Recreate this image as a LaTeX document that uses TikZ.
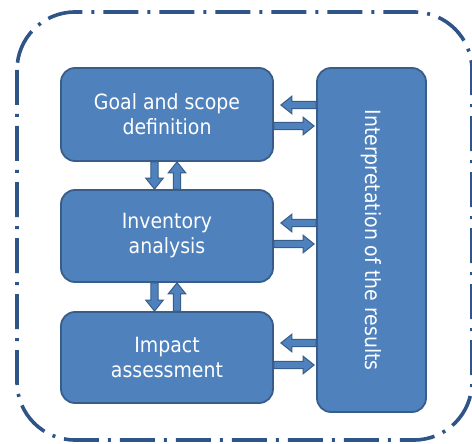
\documentclass[tikz,border=0pt]{standalone}
\usepackage{fontspec}
\setmainfont{DejaVu Sans}[FakeStretch=0.9]
\usetikzlibrary{calc}
\definecolor{boxfill}{HTML}{4F81BD}
\definecolor{boxline}{HTML}{385D8A}
\definecolor{framecol}{HTML}{2F5588}
\newcommand{\arrSW}{3.6pt}
\newcommand{\arrHW}{8.8pt}
\newcommand{\arrHL}{11pt}
\begin{document}
\begin{tikzpicture}[x=1pt,y=-1pt,
  stage/.style={draw=boxline, line width=1.8pt, fill=boxfill, rounded corners=14pt,
    text=white, font=\fontsize{21}{25}\selectfont, align=center, inner sep=0pt},
  stagetext/.style={text=white, font=\fontsize{21}{25}\selectfont, inner sep=0pt},
  barrow/.style={draw=boxline, line width=1pt, fill=boxfill, line join=miter,
    to path={
      ($(\tikztostart)!\arrSW!90:(\tikztotarget)$)
      -- ($(\tikztotarget)!\arrHL!(\tikztostart)!\arrSW!90:(\tikztotarget)$)
      -- ($(\tikztotarget)!\arrHL!(\tikztostart)!\arrHW!90:(\tikztotarget)$)
      -- (\tikztotarget)
      -- ($(\tikztotarget)!\arrHL!(\tikztostart)!\arrHW!-90:(\tikztotarget)$)
      -- ($(\tikztotarget)!\arrHL!(\tikztostart)!\arrSW!-90:(\tikztotarget)$)
      -- ($(\tikztostart)!\arrSW!-90:(\tikztotarget)$)
      -- cycle}},
  outerframe/.style={draw=framecol, line width=3.6pt, rounded corners=58pt,
    dash pattern=on 35pt off 9pt on 3pt off 9pt}]
\useasboundingbox (0,0) rectangle (472,444);

\draw[outerframe] (17,12) rectangle (472,440);

\node[stage, minimum width=212pt, minimum height=93pt] (goal) at (167,114.5) {Goal and scope\\definition};
\node[stage, minimum width=212pt, minimum height=92pt] (inv) at (167,236) {Inventory\\analysis};
\node[stage, minimum width=212pt, minimum height=91pt] (imp) at (167,357.5) {Impact\\assessment};
\node[stage, minimum width=109pt, minimum height=344pt] (interp) at (371.5,240) {};
\node[stagetext, rotate=-90] (interptext) at (interp.center) {Interpretation of the results};

% rows of the horizontal arrows
\coordinate (ya) at (0,105);
\coordinate (yb) at (0,126);
\coordinate (yc) at (0,223);
\coordinate (yd) at (0,244);
\coordinate (ye) at (0,343);
\coordinate (yf) at (0,365);
% columns of the vertical arrows
\coordinate (xd) at (154.5,0);
\coordinate (xu) at (177,0);

\coordinate (ga0) at (interp.west |- ya);
\coordinate (ga1) at ($(goal.east |- ya)+(7,0)$);
\coordinate (gb0) at (goal.east |- yb);
\coordinate (gb1) at ($(interp.west |- yb)+(-2,0)$);
\coordinate (ia0) at (interp.west |- yc);
\coordinate (ia1) at ($(inv.east |- yc)+(7,0)$);
\coordinate (ib0) at (inv.east |- yd);
\coordinate (ib1) at ($(interp.west |- yd)+(-2,0)$);
\coordinate (ma0) at (interp.west |- ye);
\coordinate (ma1) at ($(imp.east |- ye)+(7,0)$);
\coordinate (mb0) at (imp.east |- yf);
\coordinate (mb1) at ($(interp.west |- yf)+(-2,0)$);

\coordinate (d10) at (goal.south -| xd);
\coordinate (d11) at (inv.north -| xd);
\coordinate (u10) at (inv.north -| xu);
\coordinate (u11) at (goal.south -| xu);
\coordinate (d20) at (inv.south -| xd);
\coordinate (d21) at (imp.north -| xd);
\coordinate (u20) at (imp.north -| xu);
\coordinate (u21) at (inv.south -| xu);

\draw[barrow] (ga0) to (ga1);
\draw[barrow] (gb0) to (gb1);
\draw[barrow] (ia0) to (ia1);
\draw[barrow] (ib0) to (ib1);
\draw[barrow] (ma0) to (ma1);
\draw[barrow] (mb0) to (mb1);
\draw[barrow] (d10) to (d11);
\draw[barrow] (u10) to (u11);
\draw[barrow] (d20) to (d21);
\draw[barrow] (u20) to (u21);
\end{tikzpicture}
\end{document}
